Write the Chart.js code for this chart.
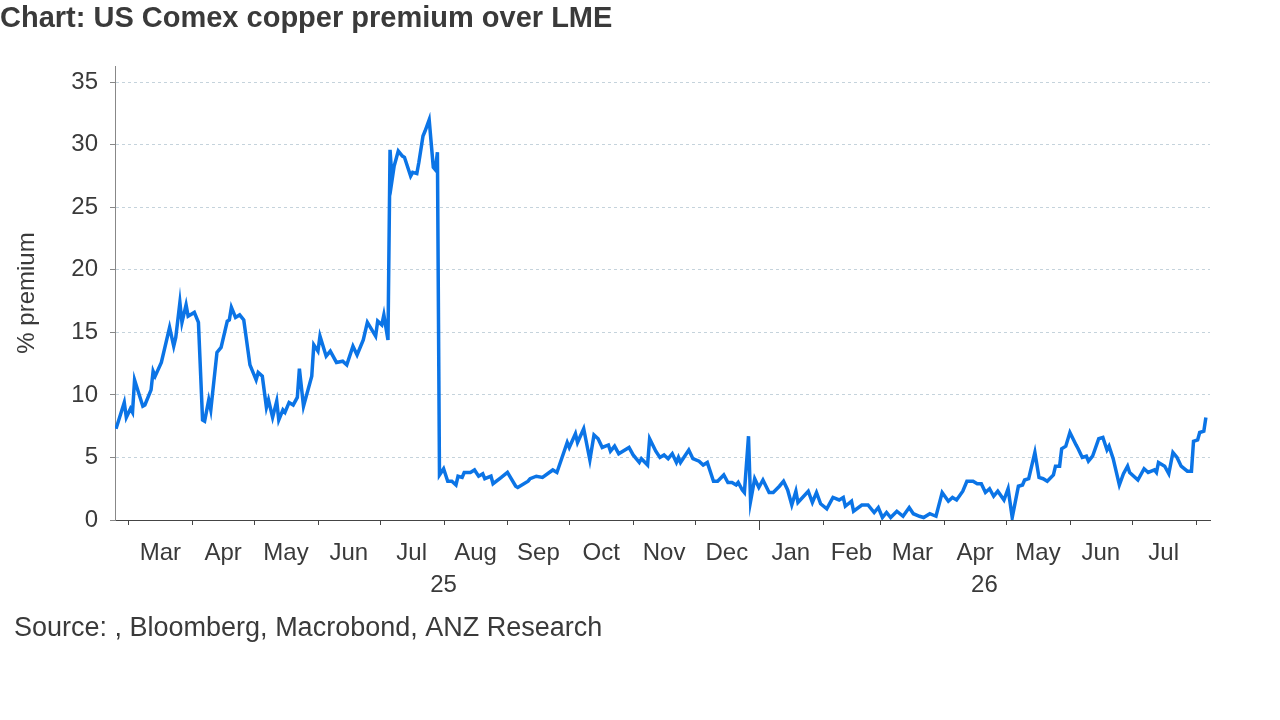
<!DOCTYPE html>
<html>
<head>
<meta charset="utf-8">
<script src="https://cdn.jsdelivr.net/npm/chart.js@4"></script>
<style>
  html, body { margin: 0; padding: 0; background: #fff; }
  #wrap { position: relative; width: 1280px; height: 720px; }
</style>
</head>
<body>
<div id="wrap"><canvas id="premiumChart" width="1280" height="720"></canvas></div>
<script>
/* ==========================================
   DATA (day number counted from 2025-01-01)
   ========================================== */
const DAYS = [
  53, 57, 58, 60, 61, 62, 66, 67, 70, 71, 72, 75, 79, 81, 82, 84, 85, 87, 88, 91, 93, 95, 96, 98, 99,
  102, 104, 107, 108, 109, 111, 113, 115, 118, 121, 122, 124, 126, 127, 129, 131, 132, 134, 135, 137, 139,
  141, 142, 144, 148, 149, 151, 152, 155, 157, 160, 163, 165, 168, 170, 173, 175, 179, 180, 182, 183, 185,
  186, 187, 188, 190, 192, 193, 196, 197, 199, 200, 202, 203, 205, 207, 208, 209,
  210, 212, 214, 216, 218, 219, 221, 222, 225, 227, 229, 231, 232, 235, 236, 240, 243, 247, 248, 253, 254,
  257, 260, 265, 267, 272, 273, 276, 277, 280, 283, 285, 287, 289, 292, 293, 295, 297, 302, 304, 307, 308,
  311, 312, 315, 317, 319, 321, 323, 325, 326, 327, 331, 333, 336, 338, 340, 343, 345, 348, 350, 352, 354,
  355, 357, 358, 360, 361, 363, 365, 367, 370, 372, 375, 377, 379, 381, 383, 384, 389, 391, 393,
  395, 398, 401, 404, 406, 407, 410, 411, 415, 418, 421, 423, 425, 427, 429, 432, 435, 438, 440, 443, 445,
  448, 451, 454, 457, 459, 461, 464, 466, 469, 471, 473, 475, 477, 479, 481, 484, 486, 488, 491, 493, 494,
  496, 499, 501, 503, 505, 508, 509, 511, 512, 514, 516, 519, 520, 522, 524, 525, 527, 530, 532, 534, 535,
  537, 540, 542, 544, 545, 549, 552, 554, 557, 558, 559, 562, 564, 566, 568, 570, 573, 575, 576, 578, 579,
  581, 582
];
const PREMIUM = [
  7.3, 9.4, 8.2, 8.9, 8.6, 11.2, 9.1, 9.2, 10.4, 11.9, 11.5, 12.6, 15.4, 13.9, 14.6, 17.4, 15.8, 17.2, 16.3, 16.6, 15.8, 8.0, 7.9, 9.6, 8.8,
  13.4, 13.8, 15.9, 16.0, 17.0, 16.2, 16.4, 16.0, 12.4, 11.2, 11.8, 11.5, 9.0, 9.6, 8.2, 9.5, 8.0, 8.8, 8.6, 9.4, 9.2,
  9.8, 12.1, 9.1, 11.5, 14.0, 13.5, 14.7, 13.1, 13.5, 12.6, 12.7, 12.4, 13.9, 13.2, 14.4, 15.8, 14.7, 15.9, 15.6, 16.4, 14.4,
  29.6, 27.2, 28.3, 29.5, 29.1, 29.0, 27.5, 27.8, 27.7, 28.6, 30.7, 31.1, 32.0, 28.2, 28.0, 29.4,
  3.6, 4.1, 3.1, 3.1, 2.8, 3.5, 3.4, 3.8, 3.8, 4.0, 3.5, 3.7, 3.3, 3.5, 2.9, 3.4, 3.8, 2.7, 2.6, 3.1, 3.3,
  3.5, 3.4, 4.0, 3.8, 6.2, 5.8, 6.9, 6.2, 7.3, 4.8, 6.8, 6.5, 5.8, 6.0, 5.5, 5.9, 5.3, 5.8, 5.2, 4.6, 4.9,
  4.4, 6.5, 5.5, 5.0, 5.2, 4.9, 5.3, 4.6, 5.0, 4.6, 5.6, 4.9, 4.7, 4.4, 4.6, 3.1, 3.1, 3.6, 3.0, 3.0, 2.8,
  3.0, 2.4, 2.2, 6.7, 1.5, 3.3, 2.6, 3.2, 2.2, 2.2, 2.7, 3.1, 2.4, 1.2, 2.3, 1.4, 2.3, 1.4, 2.2,
  1.3, 0.9, 1.8, 1.6, 1.8, 1.1, 1.5, 0.7, 1.2, 1.2, 0.6, 1.0, 0.2, 0.6, 0.2, 0.7, 0.3, 1.0, 0.5, 0.3, 0.2,
  0.5, 0.3, 2.2, 1.5, 1.8, 1.6, 2.3, 3.1, 3.1, 2.9, 2.9, 2.2, 2.5, 1.9, 2.3, 1.6, 2.5, 0.2, 2.7, 2.8, 3.2,
  3.3, 5.4, 3.4, 3.3, 3.1, 3.6, 4.3, 4.3, 5.7, 5.9, 7.0, 6.0, 5.7, 5.0, 5.1, 4.7, 5.1, 6.5, 6.6, 5.6, 5.9,
  4.9, 2.8, 3.7, 4.3, 3.8, 3.2, 4.1, 3.8, 4.0, 3.8, 4.6, 4.3, 3.7, 5.4, 5.0, 4.3, 3.9, 3.9, 6.3, 6.4, 7.0,
  7.1, 8.2
];

// month starts (day numbers) and the labels centred between them
const MONTH_TICKS  = [59, 90, 120, 151, 181, 212, 243, 273, 304, 334, 365, 396, 424, 455, 485, 516, 546, 577];
const MONTH_LABELS = ['Mar', 'Apr', 'May', 'Jun', 'Jul', 'Aug', 'Sep', 'Oct', 'Nov', 'Dec',
                      'Jan', 'Feb', 'Mar', 'Apr', 'May', 'Jun', 'Jul'];
const YEAR_LABELS  = [{ text: '25', from: 59, to: 365 }, { text: '26', from: 365, to: 584 }];
const Y_TICKS      = [0, 5, 10, 15, 20, 25, 30, 35];

const TXT  = '#3a3a3a';
const FONT = '"Liberation Sans", Arial, sans-serif';

/* ==========================================
   PLUGIN: titles, month + year labels
   ========================================== */
const decorPlugin = {
  id: 'decor',
  afterDraw(chart) {
    const { ctx, scales: { x } } = chart;
    const yAxisBottom = chart.chartArea.bottom;
    ctx.save();
    ctx.fillStyle = TXT;

    ctx.font = `bold 29px ${FONT}`;
    ctx.textAlign = 'left';
    ctx.textBaseline = 'top';
    ctx.fillText('Chart: US Comex copper premium over LME', 0, 4);

    ctx.font = `27px ${FONT}`;
    ctx.fillText('Source: , Bloomberg, Macrobond, ANZ Research', 14, 615);

    ctx.textAlign = 'center';
    ctx.textBaseline = 'middle';
    ctx.font = `24px ${FONT}`;
    MONTH_LABELS.forEach((m, i) => {
      const cx = (x.getPixelForValue(MONTH_TICKS[i]) + x.getPixelForValue(MONTH_TICKS[i + 1])) / 2;
      ctx.fillText(m, cx, yAxisBottom + 33);
    });
    YEAR_LABELS.forEach(y => {
      const cx = (x.getPixelForValue(y.from) + x.getPixelForValue(y.to)) / 2;
      ctx.fillText(y.text, cx, yAxisBottom + 65);
    });

    // month tick marks (longer one for year change)
    ctx.strokeStyle = '#444';
    ctx.lineWidth = 1;
    MONTH_TICKS.forEach(d => {
      const px = Math.round(x.getPixelForValue(d)) + 0.5;
      ctx.beginPath();
      ctx.moveTo(px, yAxisBottom);
      ctx.lineTo(px, yAxisBottom + (d === 365 ? 10 : 5));
      ctx.stroke();
    });

    ctx.translate(27, (chart.chartArea.top + yAxisBottom) / 2);
    ctx.rotate(-Math.PI / 2);
    ctx.fillText('% premium', 0, 0);
    ctx.restore();
  }
};

/* ==========================================
   CHART
   ========================================== */
new Chart(document.getElementById('premiumChart').getContext('2d'), {
  type: 'line',
  data: {
    datasets: [{
      data: DAYS.map((d, i) => ({ x: d, y: PREMIUM[i] })),
      borderColor: '#0b74e6',
      borderWidth: 3.5,
      pointRadius: 0,
      tension: 0,
      fill: false
    }]
  },
  options: {
    responsive: false,
    animation: false,
    layout: { padding: { top: 66, right: 70, left: 0, bottom: 0 } },
    plugins: { legend: { display: false }, tooltip: { enabled: false } },
    scales: {
      x: {
        type: 'linear',
        min: 52.5,
        max: 584,
        afterFit: s => { s.height = 200; },
        afterBuildTicks: s => { s.ticks = MONTH_TICKS.map(v => ({ value: v })); },
        ticks: { display: false },
        grid: { display: false, drawTicks: false },
        border: { display: true, color: '#444', width: 1 }
      },
      y: {
        min: 0,
        max: 36.3,
        afterFit: s => { s.width = 115; },
        afterBuildTicks: s => { s.ticks = Y_TICKS.map(v => ({ value: v })); },
        ticks: { color: TXT, font: { family: FONT, size: 24 }, padding: 12 },
        grid: {
          color: '#c5d3dc',
          lineWidth: 1,
          tickLength: 5,
          tickColor: '#888'
        },
        border: { display: true, color: '#888', dash: [3, 3] }
      }
    }
  },
  plugins: [decorPlugin]
});
</script>
</body>
</html>
